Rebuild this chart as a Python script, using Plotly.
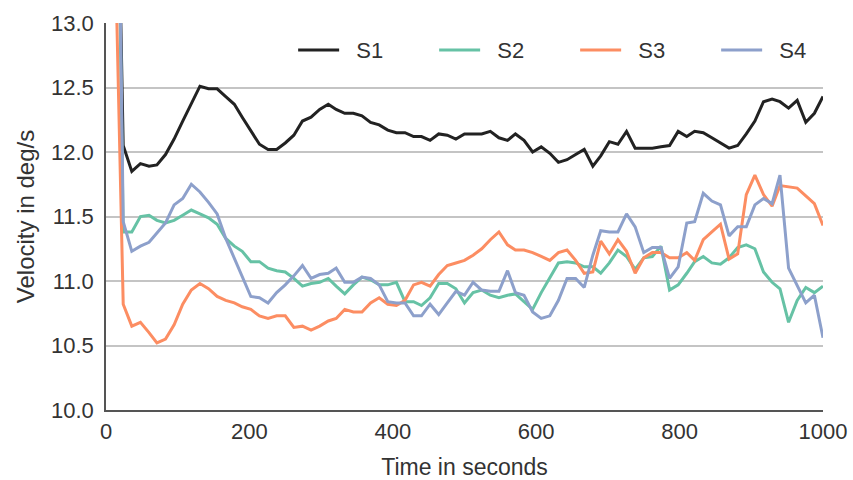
import plotly.graph_objects as go

time_s = [12, 24, 36, 48, 60, 71, 83, 95, 107, 119, 131, 143, 155, 167, 179, 190, 202, 214, 226, 238,
          250, 262, 274, 286, 298, 310, 321, 333, 345, 357, 369, 381, 393, 405, 417, 429, 440, 452, 464, 476,
          488, 500, 512, 524, 536, 548, 560, 571, 583, 595, 607, 619, 631, 643, 655, 667, 679, 690, 702, 714,
          726, 738, 750, 762, 774, 786, 798, 810, 821, 833, 845, 857, 869, 881, 893, 905, 917, 929, 940, 952,
          964, 976, 988, 1000]

s1 = [15.5, 12.05, 11.85, 11.91, 11.89, 11.90, 11.98, 12.10, 12.24, 12.37, 12.51, 12.49, 12.49, 12.43,
      12.37, 12.27, 12.16, 12.06, 12.02, 12.02, 12.07, 12.13, 12.24, 12.27, 12.33, 12.37, 12.33, 12.30,
      12.30, 12.28, 12.23, 12.21, 12.17, 12.15, 12.15, 12.12, 12.12, 12.09, 12.14, 12.13, 12.10, 12.14,
      12.14, 12.14, 12.16, 12.11, 12.09, 12.14, 12.09, 12.00, 12.04, 11.99, 11.92, 11.94, 11.98, 12.02,
      11.89, 11.97, 12.08, 12.06, 12.16, 12.03, 12.03, 12.03, 12.04, 12.05, 12.16, 12.12, 12.16, 12.15,
      12.11, 12.07, 12.03, 12.05, 12.14, 12.24, 12.39, 12.41, 12.39, 12.34, 12.40, 12.23, 12.30, 12.43]

s2 = [16.0, 11.38, 11.38, 11.50, 11.51, 11.47, 11.45, 11.47, 11.51, 11.55, 11.52, 11.49, 11.44, 11.33,
      11.27, 11.23, 11.15, 11.15, 11.10, 11.08, 11.07, 11.02, 10.96, 10.98, 10.99, 11.02, 10.96, 10.90,
      10.97, 11.03, 11.01, 10.97, 10.97, 10.99, 10.84, 10.84, 10.81, 10.87, 10.98, 10.98, 10.94, 10.83,
      10.91, 10.93, 10.89, 10.87, 10.89, 10.90, 10.84, 10.78, 10.91, 11.02, 11.14, 11.15, 11.14, 11.11,
      11.11, 11.06, 11.14, 11.24, 11.19, 11.09, 11.18, 11.19, 11.27, 10.93, 10.97, 11.06, 11.15, 11.19,
      11.14, 11.13, 11.18, 11.26, 11.28, 11.25, 11.07, 10.99, 10.94, 10.68, 10.85, 10.95, 10.91, 10.96]

s3 = [13.8, 10.82, 10.65, 10.68, 10.60, 10.52, 10.55, 10.66, 10.82, 10.93, 10.98, 10.94, 10.88, 10.85,
      10.83, 10.80, 10.78, 10.73, 10.71, 10.73, 10.73, 10.64, 10.65, 10.62, 10.65, 10.69, 10.71, 10.78,
      10.76, 10.76, 10.83, 10.87, 10.82, 10.81, 10.85, 10.97, 10.99, 10.96, 11.05, 11.12, 11.14, 11.16,
      11.20, 11.25, 11.32, 11.38, 11.28, 11.24, 11.24, 11.22, 11.19, 11.16, 11.22, 11.24, 11.16, 11.06,
      11.07, 11.31, 11.21, 11.32, 11.23, 11.06, 11.18, 11.22, 11.22, 11.18, 11.18, 11.22, 11.16, 11.32,
      11.38, 11.44, 11.17, 11.21, 11.67, 11.82, 11.67, 11.58, 11.74, 11.73, 11.72, 11.66, 11.60, 11.43]

s4 = [16.5, 11.46, 11.23, 11.27, 11.30, 11.37, 11.45, 11.59, 11.64, 11.75, 11.69, 11.61, 11.52, 11.33,
      11.18, 11.04, 10.88, 10.87, 10.83, 10.91, 10.97, 11.04, 11.12, 11.02, 11.05, 11.06, 11.10, 10.99,
      10.99, 11.03, 11.02, 10.97, 10.84, 10.83, 10.83, 10.73, 10.73, 10.82, 10.74, 10.83, 10.92, 10.89,
      10.99, 10.93, 10.92, 10.92, 11.08, 10.91, 10.89, 10.76, 10.71, 10.73, 10.85, 11.02, 11.02, 10.95,
      11.20, 11.39, 11.38, 11.38, 11.52, 11.42, 11.22, 11.26, 11.26, 11.02, 11.11, 11.45, 11.46, 11.68,
      11.62, 11.59, 11.35, 11.42, 11.42, 11.59, 11.64, 11.60, 11.82, 11.10, 10.96, 10.83, 10.89, 10.56]

series_names = ["S1", "S2", "S3", "S4"]
series_colors = ["#222222", "#66c2a5", "#fc8d62", "#8da0cb"]

fig = go.Figure()
for name, vals, col in zip(series_names, [s1, s2, s3, s4], series_colors):
    fig.add_trace(go.Scatter(x=time_s, y=vals, mode="lines", name="\u00a0\u00a0" + name,
                             line=dict(color=col, width=3)))

font_family = "Liberation Sans, Arial, sans-serif"
fig.update_layout(
    width=853, height=480,
    margin=dict(l=106, r=29.5, t=22.5, b=69.5, autoexpand=False),
    paper_bgcolor="white", plot_bgcolor="white",
    font=dict(family=font_family, size=20, color="#333333"),
    showlegend=True,
    legend=dict(orientation="h", x=0.261, y=0.93, xanchor="left", yanchor="middle",
                bgcolor="rgba(0,0,0,0)", font=dict(size=22, color="#333333"),
                itemwidth=41, entrywidth=85, entrywidthmode="pixels"),
)
fig.update_xaxes(range=[0, 1000], tickvals=[0, 200, 400, 600, 800, 1000],
                 showgrid=False, zeroline=False, showline=True, linecolor="#555555", linewidth=1.5,
                 ticks="", tickfont=dict(size=22), ticklabelstandoff=1,
                 title=dict(text="Time in seconds", standoff=16, font=dict(size=23)))
fig.update_yaxes(range=[10, 13], tickvals=[10, 10.5, 11, 11.5, 12, 12.5, 13], tickformat=".1f",
                 showgrid=True, gridcolor="#c4c4c4", gridwidth=1.5, zeroline=False,
                 showline=True, linecolor="#555555", linewidth=1.5, ticks="",
                 tickfont=dict(size=22), ticklabelstandoff=6,
                 title=dict(text="Velocity in deg/s", standoff=10, font=dict(size=24)))

fig.write_html("out.html")
